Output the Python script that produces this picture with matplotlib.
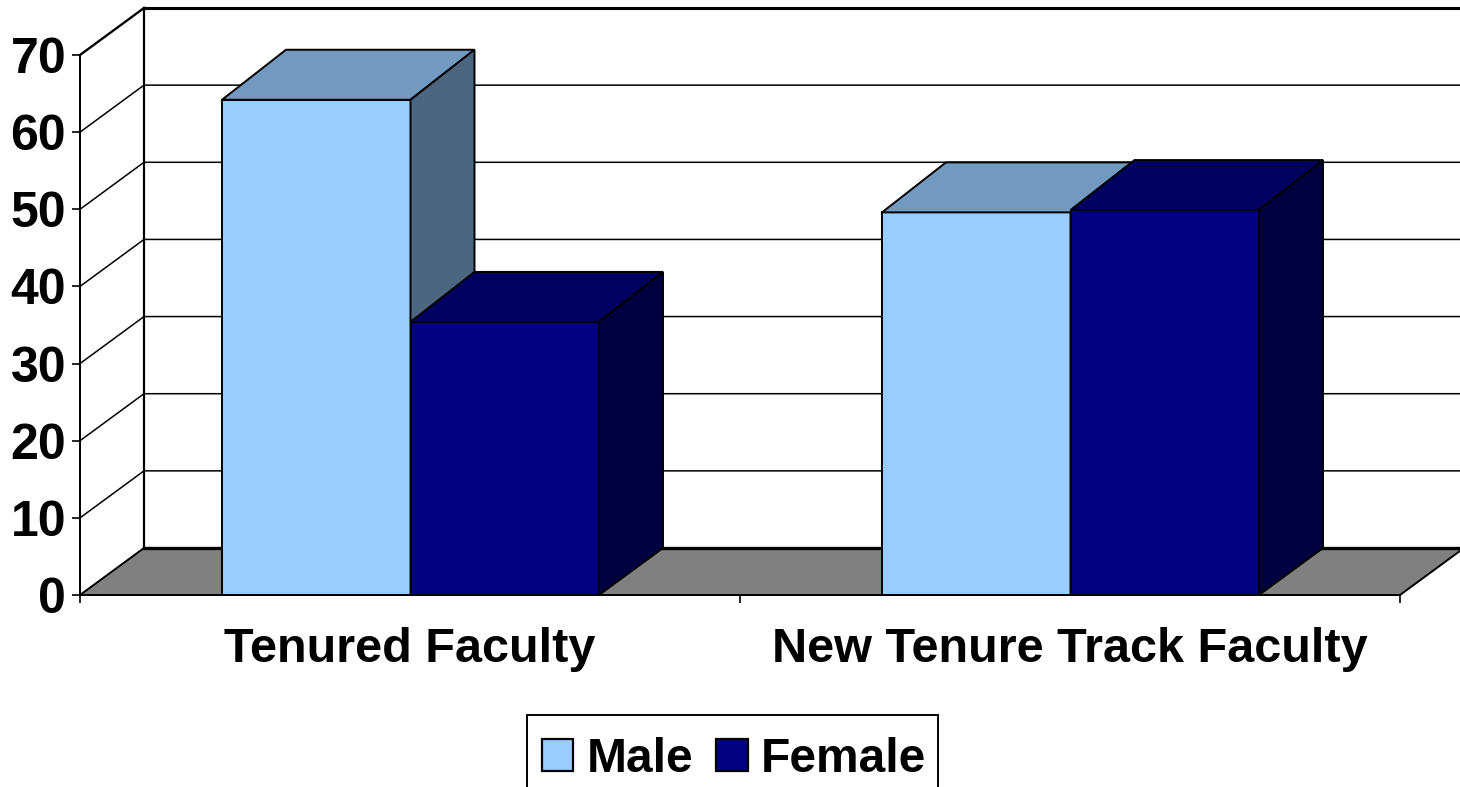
import matplotlib
matplotlib.use("Agg")
import matplotlib.pyplot as plt
from matplotlib.patches import Patch, Polygon, Rectangle

categories = ["Tenured Faculty", "New Tenure Track Faculty"]
series_names = ["Male", "Female"]
male = [64.2, 49.6]
female = [35.4, 49.9]
y_ticks = [0, 10, 20, 30, 40, 50, 60, 70]

FRONT = {"Male": "#99ccff", "Female": "#000080"}
TOP = {"Male": "#7299bf", "Female": "#000060"}
SIDE = {"Male": "#4d6680", "Female": "#000040"}

W, H = 1460, 787
X0, X1, Y0, Y70 = 80, 1400, 595, 55
PX_Y = (Y0 - Y70) / 70
DX, DY = 64 / 660, 47 / PX_Y   # depth of the 3d box, data units
DY_TOP = 50 / PX_Y             # bar tops sit a little higher at the back
BAR_W = 188.5 / 660
GAP = 142 / 660

plt.rcParams["font.family"] = ["Liberation Sans", "DejaVu Sans"]
fig = plt.figure(figsize=(W / 100, H / 100), dpi=100, facecolor="white")
ax = fig.add_axes([X0 / W, 1 - Y0 / H, (X1 - X0) / W, (Y0 - Y70) / H])
ax.set_xlim(0, 2)
ax.set_ylim(0, 70)
ax.patch.set_visible(False)


def poly(pts, fc, z):
    ax.add_patch(Polygon(pts, closed=True, fc=fc, ec="black", lw=1.4, zorder=z,
                         clip_on=False))


def line(xs, ys, lw):
    ax.plot(xs, ys, color="black", lw=lw, zorder=1, clip_on=False, solid_capstyle="projecting")


# floor + back wall + grid
x_end = (W - X0) / 660 + 0.01
poly([(0, 0), (2, 0), (2 + DX, DY), (DX, DY)], "#808080", 1)
line([DX, x_end], [DY, DY], 2.4)
line([DX, DX], [DY, 70 + DY], 1.6)
line([DX, x_end], [70 + DY, 70 + DY], 2.2)
for v in y_ticks[1:-1]:
    line([0, DX, x_end], [v, v + DY, v + DY], 1.1)
line([0, DX], [70, 70 + DY], 1.7)

# bars, back to front
for i, cat in enumerate(categories):
    left = i + GAP
    for j, (name, vals) in enumerate(zip(series_names, [male, female])):
        x = left + j * BAR_W
        v = vals[i]
        z = 3 + j
        poly([(x, 0), (x + BAR_W, 0), (x + BAR_W, v), (x, v)], FRONT[name], z)
        poly([(x, v), (x + BAR_W, v), (x + BAR_W + DX, v + DY_TOP), (x + DX, v + DY_TOP)],
             TOP[name], z)
        poly([(x + BAR_W, 0), (x + BAR_W + DX, DY), (x + BAR_W + DX, v + DY_TOP), (x + BAR_W, v)],
             SIDE[name], z)

# axes
for s in ["top", "right"]:
    ax.spines[s].set_visible(False)
for s in ["left", "bottom"]:
    ax.spines[s].set_linewidth(1.4)
    ax.spines[s].set_zorder(6)
ax.set_yticks(y_ticks)
ax.set_xticks([0, 1, 2])
ax.set_xticklabels([])
ax.tick_params(axis="y", length=6, width=1.2, labelsize=36, pad=4)
ax.tick_params(axis="x", length=6, width=1.2)
for t in ax.get_yticklabels():
    t.set_fontweight("bold")
for i, cat in enumerate(categories):
    ax.text(i + 0.5, -54 / PX_Y, cat, ha="center", va="center", fontsize=35,
            fontweight="bold", clip_on=False)

# legend box runs off the bottom of the image, so the frame is drawn apart from the entries
fig.add_artist(Rectangle((527 / W, -0.02), 411 / W, 1 - 715 / H + 0.02, transform=fig.transFigure,
                         fc="white", ec="black", lw=1.4))
handles = [Patch(fc=FRONT[n], ec="black", lw=1.6, label=n) for n in series_names]
leg = fig.legend(handles=handles, loc="upper left", bbox_to_anchor=(526 / W, 1 - 721 / H),
                 ncol=2, frameon=False, borderaxespad=0, handlelength=0.66, handleheight=0.66,
                 handletextpad=0.27, columnspacing=0.49, borderpad=0.33,
                 prop={"weight": "bold", "size": 34.5})

fig.savefig("out.png", dpi=100, facecolor="white")
